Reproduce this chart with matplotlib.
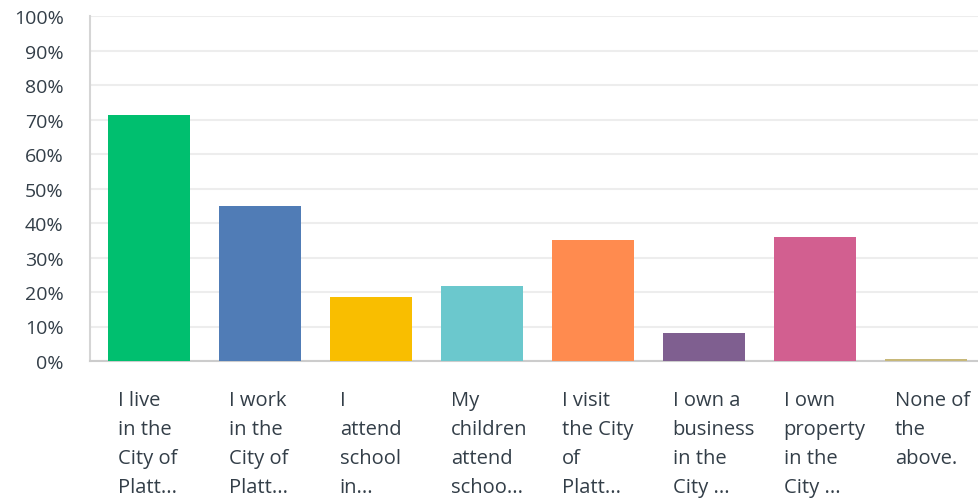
import numpy as np
import matplotlib.pyplot as plt

categories = ['I live\nin the\nCity of\nPlatt...', 'I work\nin the\nCity of\nPlatt...',
              'I\nattend\nschool\nin...', 'My\nchildren\nattend\nschoo...',
              'I visit\nthe City\nof\nPlatt...', 'I own a\nbusiness\nin the\nCity ...',
              'I own\nproperty\nin the\nCity ...', 'None of\nthe\nabove.']
values = [71.3, 44.9, 18.5, 21.7, 35.1, 8.1, 35.9, 0.6]
colors = ['#00bf6f', '#507cb6', '#f9be00', '#6bc8cd', '#ff8b4f', '#7f5f90', '#d25f90', '#c7b879']
yticks = [0, 10, 20, 30, 40, 50, 60, 70, 80, 90, 100]
ytick_labels = ['%d%%' % v for v in yticks]

plt.rcParams['font.family'] = ['Open Sans', 'DejaVu Sans']
text_color = '#333e48'

fig = plt.figure(figsize=(9.79, 5.02), dpi=100)
ax = fig.add_axes([90 / 979, 1 - 362 / 502, 889 / 979, 345 / 502])

x = np.arange(len(values))
ax.bar(x, values, width=0.74, color=colors, zorder=3)

ax.set_xlim(-0.53, -0.53 + 889 / 111)
ax.set_ylim(0, 100)
ax.set_yticks(yticks)
ax.set_yticklabels(ytick_labels, fontsize=14, color=text_color)
ax.tick_params(axis='y', length=0, pad=19)
ax.grid(axis='y', color='#ededed', linewidth=1.5, zorder=0)

ax.set_xticks(x - 0.28)
ax.set_xticklabels(categories, fontsize=14.5, color=text_color, ha='left',
                   va='top', linespacing=1.6)
ax.tick_params(axis='x', length=0, pad=21)

for s in ['top', 'right']:
    ax.spines[s].set_visible(False)
ax.spines['left'].set_color('#d5d5d5')
ax.spines['left'].set_linewidth(1.5)
ax.spines['bottom'].set_color('#cccccc')
ax.spines['bottom'].set_linewidth(1.5)

plt.savefig('out.png', dpi=100)
